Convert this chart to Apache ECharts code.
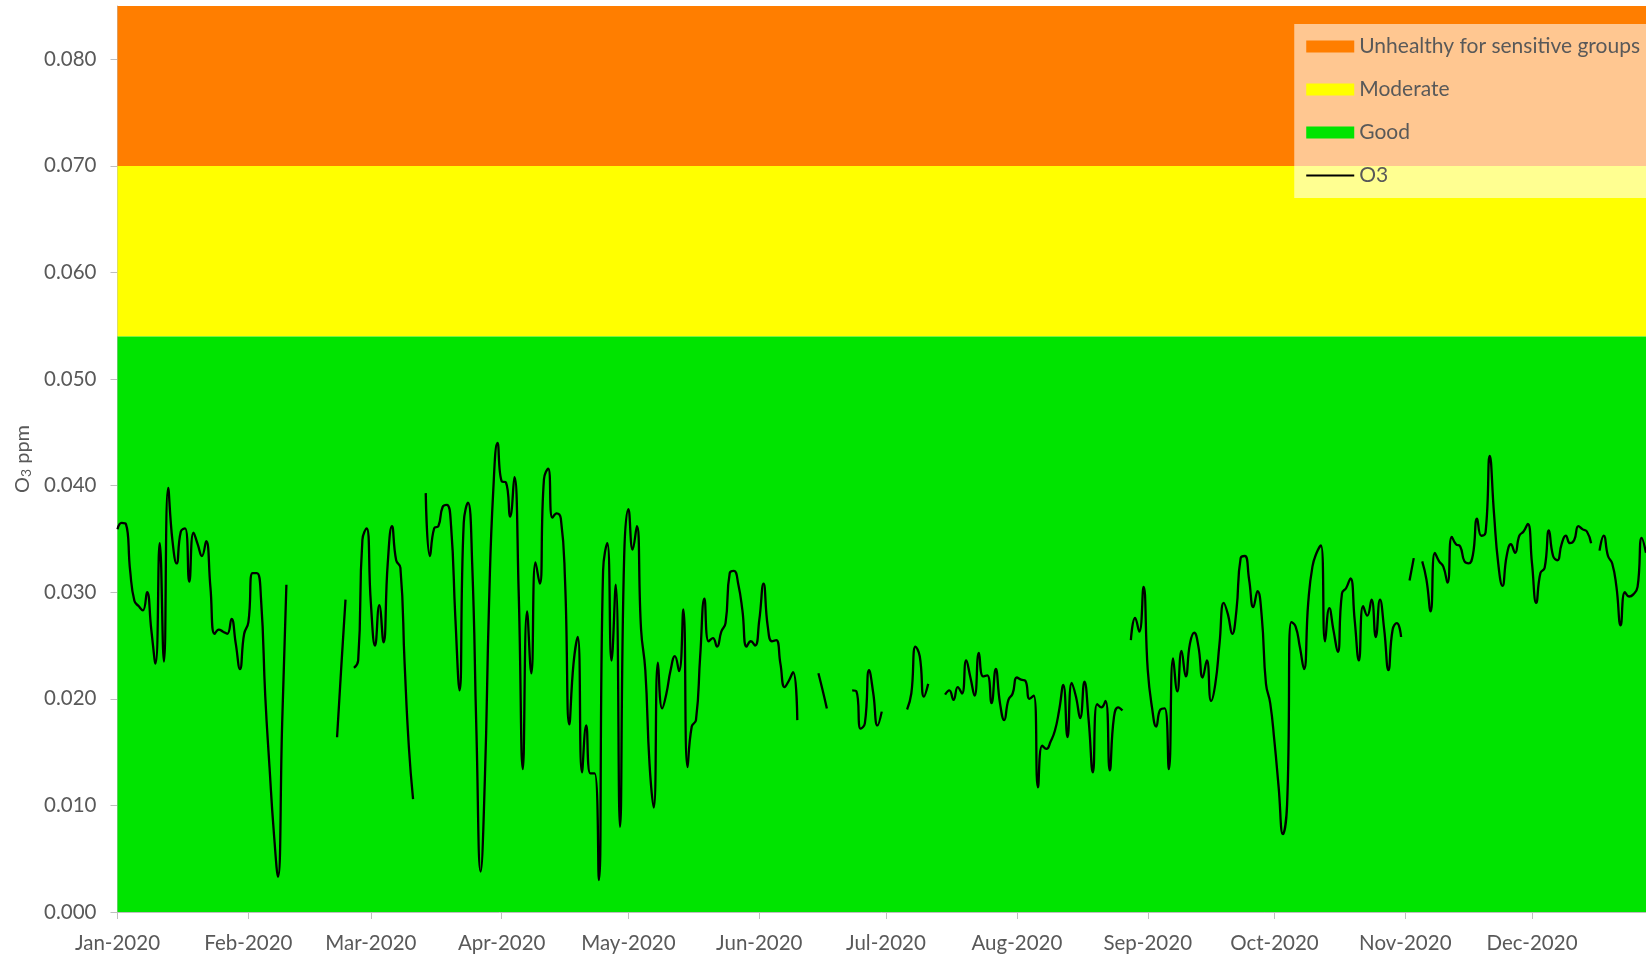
<!DOCTYPE html>
<html>
<head>
<meta charset="utf-8">
<title>O3 2020</title>
<script src="https://cdn.jsdelivr.net/npm/echarts@6/dist/echarts.min.js"></script>
<style>
  html, body { margin: 0; padding: 0; background: #fff; }
  #chart { width: 1646px; height: 954px; }
</style>
</head>
<body>
<div id="chart"></div>
<script>
// daily O3 (ppm), null = no data
const jan = [0.0359, 0.0365, 0.0364, 0.0320, 0.0292, 0.0287, 0.0283, 0.0300, 0.0265, 0.0233,
  0.0346, 0.0235, 0.0398, 0.0349, 0.0327, 0.0357, 0.0360, 0.0310, 0.0356, 0.0345,
  0.0334, 0.0348, 0.0305, 0.0261, 0.0265, 0.0263, 0.0261, 0.0275, 0.0252, 0.0228, 0.0261]
const feb = [0.0272, 0.0318, 0.0318, 0.0293, 0.0202, 0.0136, 0.0076, 0.0033, 0.0177, 0.0307,
  null, null, null, null, null, null, null, null, null, null, null,
  0.0164, 0.0230, 0.0293, null, 0.0229, 0.0236, 0.0349, 0.0360]
const mar = [0.0290, 0.0250, 0.0288, 0.0253, 0.0327, 0.0362, 0.0330, 0.0323, 0.0233, 0.0155,
  0.0106, null, null, 0.0393, 0.0334, 0.0360, 0.0362, 0.0380, 0.0382, 0.0362,
  0.0277, 0.0208, 0.0365, 0.0384, 0.0327, 0.0170, 0.0038, 0.0124, 0.0290, 0.0396, 0.0440]
const apr = [0.0404, 0.0403, 0.0371, 0.0408, 0.0302, 0.0134, 0.0282, 0.0224, 0.0328, 0.0308,
  0.0406, 0.0416, 0.0370, 0.0374, 0.0369, 0.0310, 0.0176, 0.0233, 0.0258, 0.0131,
  0.0175, 0.0130, 0.0130, 0.0030, 0.0320, 0.0346, 0.0236, 0.0307, 0.0080, 0.0334]
const may = [0.0378, 0.0340, 0.0362, 0.0265, 0.0227, 0.0139, 0.0098, 0.0234, 0.0191, 0.0205,
  0.0227, 0.0240, 0.0226, 0.0284, 0.0136, 0.0174, 0.0180, 0.0240, 0.0294, 0.0254,
  0.0257, 0.0249, 0.0263, 0.0271, 0.0318, 0.0320, 0.0308, 0.0283, 0.0249, 0.0254, 0.0250]
const jun = [0.0274, 0.0308, 0.0268, 0.0254, 0.0255, 0.0233, 0.0211, 0.0217, 0.0225, 0.0180,
  null, null, null, null, 0.0224, 0.0208, 0.0191, null, null, null,
  null, null, 0.0208, 0.0207, 0.0172, 0.0177, 0.0227, 0.0205, 0.0175, 0.0188]
const jul = [null, null, null, null, null, 0.0190, 0.0205, 0.0249, 0.0240, 0.0202,
  0.0214, null, null, null, 0.0204, 0.0208, 0.0199, 0.0211, 0.0205, 0.0236,
  0.0220, 0.0203, 0.0243, 0.0221, 0.0222, 0.0196, 0.0228, 0.0196, 0.0180, 0.0199, 0.0205]
const aug = [0.0220, 0.0218, 0.0217, 0.0200, 0.0203, 0.0117, 0.0156, 0.0153, 0.0160, 0.0170,
  0.0189, 0.0213, 0.0164, 0.0215, 0.0202, 0.0182, 0.0216, 0.0180, 0.0131, 0.0195,
  0.0192, 0.0198, 0.0133, 0.0183, 0.0192, 0.0189, null, 0.0255, 0.0276, 0.0263, 0.0305]
const sep = [0.0227, 0.0192, 0.0174, 0.0190, 0.0191, 0.0134, 0.0238, 0.0207, 0.0245, 0.0221,
  0.0252, 0.0262, 0.0249, 0.0220, 0.0236, 0.0198, 0.0214, 0.0252, 0.0290, 0.0279,
  0.0261, 0.0283, 0.0332, 0.0334, 0.0312, 0.0286, 0.0301, 0.0277, 0.0214, 0.0196]
const oct = [0.0160, 0.0117, 0.0073, 0.0101, 0.0272, 0.0268, 0.0249, 0.0228, 0.0290, 0.0324,
  0.0337, 0.0344, 0.0254, 0.0285, 0.0264, 0.0244, 0.0299, 0.0304, 0.0313, 0.0274,
  0.0236, 0.0287, 0.0278, 0.0293, 0.0258, 0.0293, 0.0265, 0.0227, 0.0265, 0.0271, 0.0258]
const nov = [null, 0.0311, 0.0332, null, 0.0329, 0.0312, 0.0282, 0.0337, 0.0329, 0.0324,
  0.0309, 0.0352, 0.0345, 0.0343, 0.0329, 0.0327, 0.0335, 0.0369, 0.0353, 0.0356,
  0.0428, 0.0374, 0.0327, 0.0306, 0.0334, 0.0345, 0.0337, 0.0353, 0.0357, 0.0364]
const dec = [0.0327, 0.0290, 0.0318, 0.0323, 0.0358, 0.0334, 0.0330, 0.0345, 0.0353, 0.0346,
  0.0349, 0.0362, 0.0359, 0.0357, 0.0346, null, 0.0339, 0.0353, 0.0334, 0.0327,
  0.0305, 0.0269, 0.0300, 0.0296, 0.0298, 0.0305, 0.0351, 0.0337]

const o3 = [].concat(jan, feb, mar, apr, may, jun, jul, aug, sep, oct, nov, dec)

// AQI bands
const bandNames = ['Unhealthy for sensitive groups', 'Moderate', 'Good']
const bandLower = [0.070, 0.054, 0]
const bandUpper = [0.085, 0.070, 0.054]
const bandColors = ['#ff7e00', '#ffff00', '#00e400']

const monthNames = ['Jan', 'Feb', 'Mar', 'Apr', 'May', 'Jun', 'Jul', 'Aug', 'Sep', 'Oct', 'Nov', 'Dec']

// one category per day starting Jan 1 2020
const dates = []
const start = Date.UTC(2020, 0, 1)
for (let i = 0; i < o3.length; i++) {
  dates.push(new Date(start + i * 86400000).toISOString().slice(0, 10))
}
const isMonthStart = (i, v) => v.slice(8) === '01'

const textColor = '#595959'
const font = 'Lato'

const chart = echarts.init(document.getElementById('chart'))

const bandSeries = bandNames.map((name, i) => ({
  name: name,
  type: 'line',
  data: [],
  color: bandColors[i],
  itemStyle: { color: bandColors[i] }
}))

chart.setOption({
  animation: false,
  grid: { left: 117.5, right: 0, top: 6, bottom: 42 },
  legend: {
    orient: 'vertical',
    right: 0,
    top: 24,
    selectedMode: false,
    backgroundColor: 'rgba(255,255,255,0.57)',
    padding: [12, 6, 12, 12],
    itemWidth: 48,
    itemHeight: 12,
    itemGap: 22,
    textStyle: { fontFamily: font, fontSize: 21, color: textColor, lineHeight: 21 },
    data: [
      { name: bandNames[0], icon: 'rect' },
      { name: bandNames[1], icon: 'rect' },
      { name: bandNames[2], icon: 'rect' },
      { name: 'O3', icon: 'path://M0,0H100V4H0Z' }
    ]
  },
  xAxis: {
    type: 'category',
    data: dates,
    boundaryGap: false,
    axisLine: { lineStyle: { color: '#bfbfbf' } },
    axisTick: { show: true, length: 7, interval: isMonthStart, lineStyle: { color: '#bfbfbf' } },
    axisLabel: {
      interval: isMonthStart,
      formatter: v => monthNames[+v.slice(5, 7) - 1] + '-' + v.slice(0, 4),
      color: textColor,
      fontFamily: font,
      fontSize: 20.5,
      margin: 21
    },
    splitLine: { show: false }
  },
  yAxis: {
    type: 'value',
    min: 0,
    max: 0.085,
    interval: 0.01,
    axisLine: { show: true, lineStyle: { color: '#bfbfbf' } },
    axisTick: { show: true, length: 7, lineStyle: { color: '#bfbfbf' } },
    axisLabel: {
      showMaxLabel: false,
      formatter: v => v.toFixed(3),
      color: textColor,
      fontFamily: font,
      fontSize: 20.5,
      margin: 21
    },
    splitLine: { show: false },
    name: '{a|O}{s|3}{a| ppm}',
    nameLocation: 'middle',
    nameRotate: 90,
    nameGap: 83,
    nameTextStyle: {
      rich: {
        a: { fontFamily: font, fontSize: 20, color: textColor },
        s: { fontFamily: font, fontSize: 14, color: textColor, verticalAlign: 'bottom', padding: [8, 0, 0, 0] }
      }
    }
  },
  series: bandSeries.concat([{
    name: 'O3',
    type: 'line',
    data: o3,
    smooth: 0.5,
    showSymbol: false,
    connectNulls: false,
    color: '#000',
    lineStyle: { width: 2.3, color: '#000' },
    z: 5,
    markArea: {
      silent: true,
      data: bandNames.map((n, i) => [
        { yAxis: bandLower[i], itemStyle: { color: bandColors[i], opacity: 1 } },
        { yAxis: bandUpper[i] }
      ])
    }
  }])
})
</script>
</body>
</html>
